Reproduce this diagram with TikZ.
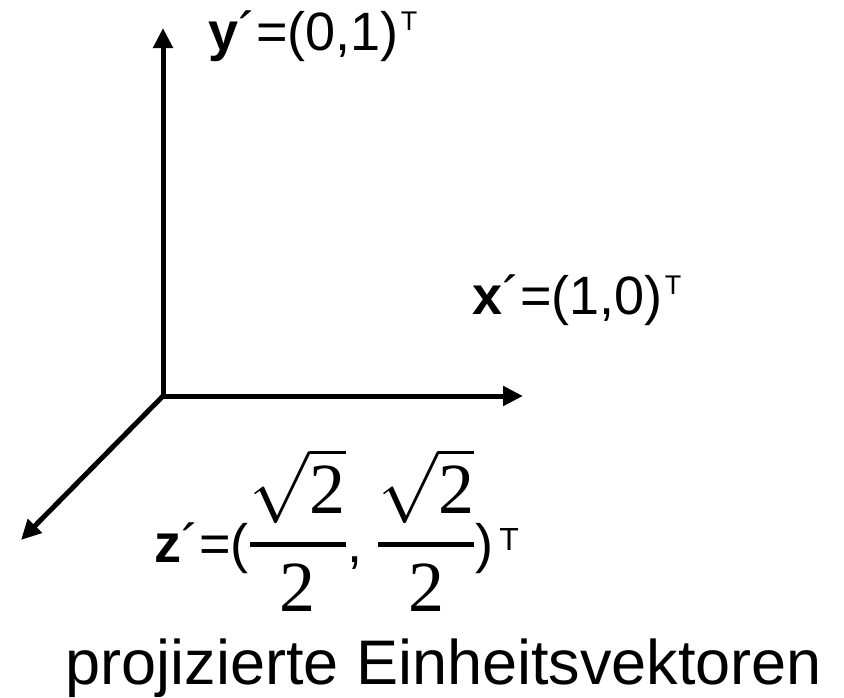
\RequirePackage{fix-cm}
\documentclass[tikz,border=0pt]{standalone}
\usepackage{amsmath}
\usepackage{fontspec}
\setmainfont{Liberation Sans}
\newfontfamily\tnr{Liberation Serif}
\usetikzlibrary{arrows.meta}
\newcommand{\supT}{\hspace{2pt}\raisebox{20pt}{\fontsize{27}{27}\selectfont T}}
\newcommand{\supTz}{\hspace{6pt}\raisebox{12pt}{\fontsize{32}{32}\selectfont T}}
\newcommand{\zfrac}{{\fontsize{72}{80}\selectfont$\genfrac{}{}{5pt}{0}{\sqrt{\mbox{\tnr 2}}}{\mbox{\tnr 2}}$}}
\begin{document}
\begin{tikzpicture}[x=1pt,y=-1pt,
  axis/.style={line width=5pt, line join=miter},
  lab/.style={font=\fontsize{54}{60}\selectfont, inner sep=0pt, anchor=base west}]
\useasboundingbox (0,0) rectangle (844,697);
\coordinate (O) at (163,396);
\coordinate (Y) at (163,28);
\coordinate (X) at (523,396);
\coordinate (Z) at (21,540);
\draw[axis, {Triangle[length=20pt,width=19pt]}-{Triangle[length=20pt,width=19pt]}] (Y) -- (O) -- (X);
\draw[axis, -{Triangle[length=20pt,width=19pt]}] (O) -- (Z);
\node[lab] (ly) at (208,50) {\textbf{y}´=(0,1)\supT};
\node[lab] (lx) at (472,314) {\textbf{x}´=(1,0)\supT};
\node[lab] (lz) at (154,562) {\textbf{z}´=(\zfrac,\ \zfrac)\supTz};
\node[font=\fontsize{63}{70}\selectfont, anchor=base, inner sep=0pt] (cap) at (444,684) {projizierte Einheitsvektoren};
\end{tikzpicture}
\end{document}
